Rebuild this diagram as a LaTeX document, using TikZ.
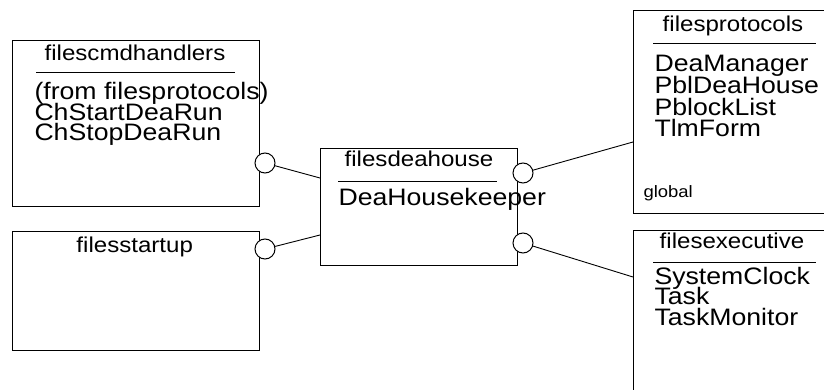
\documentclass[tikz,border=0pt]{standalone}
\usepackage{fontspec}
\setmainfont{Liberation Sans}[FakeStretch=1.12]
\begin{document}
\begin{tikzpicture}[x=1pt,y=-1pt,line width=1pt,
  pkg/.style={draw=black,fill=white,anchor=north west,inner sep=0pt},
  ttl/.style={font=\fontsize{21.5}{21}\selectfont,anchor=base,inner sep=0pt},
  body/.style={font=\fontsize{23.8}{21}\selectfont,anchor=base west,inner sep=0pt,
    text height=16pt,text depth=3.5pt},
  small/.style={font=\fontsize{16.5}{16}\selectfont,anchor=base west,inner sep=0pt},
  iface/.style={circle,draw=black,fill=white,minimum size=20pt,inner sep=0pt},
  link/.style={draw=black,line width=0.9pt}]
\useasboundingbox (0,0) rectangle (824,390);

% package boxes
\node[pkg,minimum width=247pt,minimum height=166pt] (cmd) at (12,40) {};
\node[pkg,minimum width=247pt,minimum height=119pt] (startup) at (12,231) {};
\node[pkg,minimum width=197pt,minimum height=117pt] (dea) at (320,148) {};
\node[pkg,minimum width=200pt,minimum height=203pt] (proto) at (633,10) {};
\node[pkg,minimum width=200pt,minimum height=180pt] (exec) at (633,230) {};

% filescmdhandlers
\node[ttl] (cmdT) at (135,60.7) {filescmdhandlers};
\draw (36,73) -- (235,73);
\node[body] (cmd1) at (34,100) {(from filesprotocols)};
\node[body] (cmd2) at (34,120.5) {ChStartDeaRun};
\node[body] (cmd3) at (34,141) {ChStopDeaRun};

% filesstartup
\node[ttl] (startT) at (134.7,252.7) {filesstartup};

% filesdeahouse
\node[ttl] (deaT) at (419,166.7) {filesdeahouse};
\draw (338,182) -- (497,182);
\node[body] (dea1) at (338,205) {DeaHousekeeper};

% filesprotocols
\node[ttl] (protoT) at (733,31.7) {filesprotocols};
\draw (653,44) -- (816,44);
\node[body] (pr1) at (654,71.7) {DeaManager};
\node[body] (pr2) at (654,93.4) {PblDeaHouse};
\node[body] (pr3) at (654,115.1) {PblockList};
\node[body] (pr4) at (654,136.8) {TlmForm};
\node[small] (glob) at (643,197) {global};

% filesexecutive
\node[ttl] (execT) at (732,248.3) {filesexecutive};
\draw (653,262.7) -- (816,262.7);
\node[body] (ex1) at (654,284) {SystemClock};
\node[body] (ex2) at (654,304.5) {Task};
\node[body] (ex3) at (654,325) {TaskMonitor};

% interface lollipops
\node[iface] (i1) at (265,163) {};
\node[iface] (i2) at (265,249) {};
\node[iface] (i3) at (523,173) {};
\node[iface] (i4) at (523,243) {};

\coordinate (d1) at (320,178);
\coordinate (d2) at (320,235);
\coordinate (p1) at (633,142);
\coordinate (e1) at (633,277);

\draw[link] (i1) -- (d1);
\draw[link] (i2) -- (d2);
\draw[link] (i3) -- (p1);
\draw[link] (i4) -- (e1);
\end{tikzpicture}
\end{document}
